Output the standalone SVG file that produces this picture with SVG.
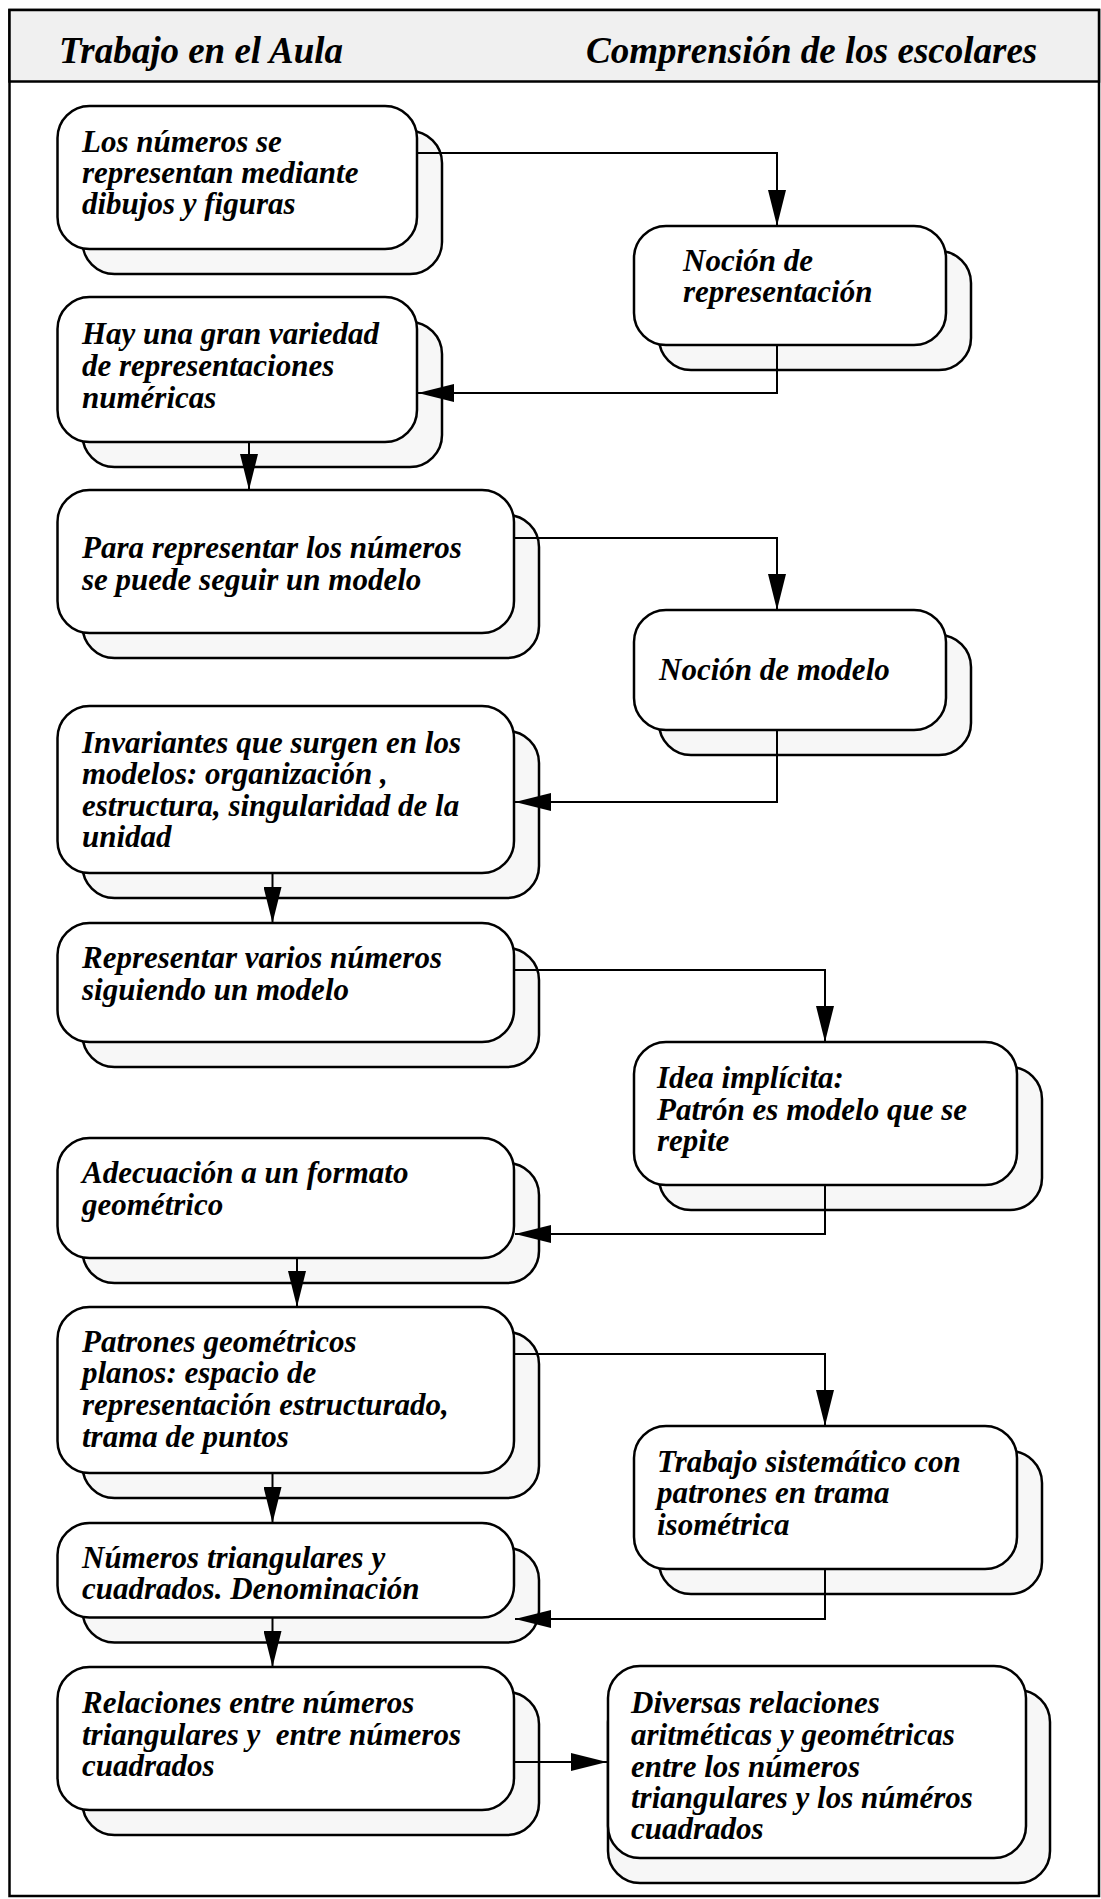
<svg xmlns="http://www.w3.org/2000/svg" width="1101" height="1899" viewBox="0 0 1101 1899">
<style>
.frame{fill:#ffffff;stroke:#000;stroke-width:2.5}
.head{fill:#f0f0f0;stroke:#000;stroke-width:2.5}
.shadow{fill:#f7f7f7;stroke:#000;stroke-width:2.5}
.box{fill:#ffffff;stroke:#000;stroke-width:2.5}
.conn{fill:none;stroke:#000;stroke-width:2}
.ht{font-family:"Liberation Serif","Times New Roman",serif;font-style:italic;font-weight:bold;font-size:37px;fill:#000}
.t{font-family:"Liberation Serif","Times New Roman",serif;font-style:italic;font-weight:bold;font-size:31px;fill:#000;white-space:pre}
</style>
<defs>
<marker id="arr" markerUnits="userSpaceOnUse" markerWidth="36" markerHeight="18" refX="36" refY="9" orient="auto" viewBox="0 0 36 18">
<path d="M0,0 L36,9 L0,18 z" fill="#000"/>
</marker>
</defs>
<rect class="frame" x="9.5" y="10" width="1089.5" height="1886"/>
<g id="header">
<rect class="head" x="9.5" y="10" width="1089.5" height="71.5"/>
<text class="ht" x="59" y="63">Trabajo en el Aula</text>
<text class="ht" x="586" y="63">Comprensión de los escolares</text>
</g>
<g id="n1">
<rect class="shadow" x="82.5" y="131" width="359.5" height="143" rx="32"/>
<rect class="box" x="57.5" y="106" width="359.5" height="143" rx="32"/>
<text class="t" x="82" y="152">Los números se</text>
<text class="t" x="82" y="183">representan mediante</text>
<text class="t" x="82" y="214">dibujos y figuras</text>
</g>
<g id="n2">
<rect class="shadow" x="659" y="251" width="312" height="119" rx="32"/>
<rect class="box" x="634" y="226" width="312" height="119" rx="32"/>
<text class="t" x="683" y="271">Noción de</text>
<text class="t" x="683" y="302">representación</text>
</g>
<g id="n3">
<rect class="shadow" x="82.5" y="322" width="359.5" height="145" rx="32"/>
<rect class="box" x="57.5" y="297" width="359.5" height="145" rx="32"/>
<text class="t" x="82" y="344">Hay una gran variedad</text>
<text class="t" x="82" y="376">de representaciones</text>
<text class="t" x="82" y="408">numéricas</text>
</g>
<g id="n4">
<rect class="shadow" x="82.5" y="515" width="456.5" height="143" rx="32"/>
<rect class="box" x="57.5" y="490" width="456.5" height="143" rx="32"/>
<text class="t" x="82" y="558">Para representar los números</text>
<text class="t" x="82" y="590">se puede seguir un modelo</text>
</g>
<g id="n5">
<rect class="shadow" x="659" y="635" width="312" height="120" rx="32"/>
<rect class="box" x="634" y="610" width="312" height="120" rx="32"/>
<text class="t" x="659" y="680">Noción de modelo</text>
</g>
<g id="n6">
<rect class="shadow" x="82.5" y="731" width="456.5" height="167" rx="32"/>
<rect class="box" x="57.5" y="706" width="456.5" height="167" rx="32"/>
<text class="t" x="82" y="753">Invariantes que surgen en los</text>
<text class="t" x="82" y="784">modelos: organización ,</text>
<text class="t" x="82" y="816">estructura, singularidad de la</text>
<text class="t" x="82" y="847">unidad</text>
</g>
<g id="n7">
<rect class="shadow" x="82.5" y="948" width="456.5" height="119" rx="32"/>
<rect class="box" x="57.5" y="923" width="456.5" height="119" rx="32"/>
<text class="t" x="82" y="968">Representar varios números</text>
<text class="t" x="82" y="1000">siguiendo un modelo</text>
</g>
<g id="n8">
<rect class="shadow" x="659" y="1067" width="383" height="143" rx="32"/>
<rect class="box" x="634" y="1042" width="383" height="143" rx="32"/>
<text class="t" x="657" y="1088">Idea implícita:</text>
<text class="t" x="657" y="1120">Patrón es modelo que se</text>
<text class="t" x="657" y="1151">repite</text>
</g>
<g id="n9">
<rect class="shadow" x="82.5" y="1163" width="456.5" height="120" rx="32"/>
<rect class="box" x="57.5" y="1138" width="456.5" height="120" rx="32"/>
<text class="t" x="82" y="1183">Adecuación a un formato</text>
<text class="t" x="82" y="1215">geométrico</text>
</g>
<g id="n10">
<rect class="shadow" x="82.5" y="1332" width="456.5" height="166" rx="32"/>
<rect class="box" x="57.5" y="1307" width="456.5" height="166" rx="32"/>
<text class="t" x="82" y="1352">Patrones geométricos</text>
<text class="t" x="82" y="1383">planos: espacio de</text>
<text class="t" x="82" y="1415">representación estructurado,</text>
<text class="t" x="82" y="1447">trama de puntos</text>
</g>
<g id="n11">
<rect class="shadow" x="659" y="1451" width="383" height="143" rx="32"/>
<rect class="box" x="634" y="1426" width="383" height="143" rx="32"/>
<text class="t" x="657" y="1472">Trabajo sistemático con</text>
<text class="t" x="657" y="1503">patrones en trama</text>
<text class="t" x="657" y="1535">isométrica</text>
</g>
<g id="n12">
<rect class="shadow" x="82.5" y="1548" width="456.5" height="94.5" rx="32"/>
<rect class="box" x="57.5" y="1523" width="456.5" height="94.5" rx="32"/>
<text class="t" x="82" y="1568">Números triangulares y</text>
<text class="t" x="82" y="1599">cuadrados. Denominación</text>
</g>
<g id="n13">
<rect class="shadow" x="82.5" y="1692" width="456.5" height="143" rx="32"/>
<rect class="box" x="57.5" y="1667" width="456.5" height="143" rx="32"/>
<text class="t" x="82" y="1713">Relaciones entre números</text>
<text class="t" x="82" y="1745">triangulares y  entre números</text>
<text class="t" x="82" y="1776">cuadrados</text>
</g>
<g id="n14">
<rect class="shadow" x="608" y="1690" width="442" height="193" rx="32"/>
<rect class="box" x="608" y="1666" width="418" height="192" rx="32"/>
<text class="t" x="631" y="1713">Diversas relaciones</text>
<text class="t" x="631" y="1745">aritméticas y geométricas</text>
<text class="t" x="631" y="1777">entre los números</text>
<text class="t" x="631" y="1808">triangulares y los núméros</text>
<text class="t" x="631" y="1839">cuadrados</text>
</g>
<g id="connectors">
<path class="conn" marker-end="url(#arr)" d="M417,153 H777 V226"/>
<path class="conn" marker-end="url(#arr)" d="M777,345 V393 H418"/>
<path class="conn" marker-end="url(#arr)" d="M249,442 V490"/>
<path class="conn" marker-end="url(#arr)" d="M514,538 H777 V610"/>
<path class="conn" marker-end="url(#arr)" d="M777,730 V802 H515"/>
<path class="conn" marker-end="url(#arr)" d="M272.5,873 V923"/>
<path class="conn" marker-end="url(#arr)" d="M514,970 H825 V1042"/>
<path class="conn" marker-end="url(#arr)" d="M825,1185 V1234 H515"/>
<path class="conn" marker-end="url(#arr)" d="M297,1258 V1307"/>
<path class="conn" marker-end="url(#arr)" d="M514,1354 H825 V1426"/>
<path class="conn" marker-end="url(#arr)" d="M272.5,1473 V1523"/>
<path class="conn" marker-end="url(#arr)" d="M825,1569 V1619 H515"/>
<path class="conn" marker-end="url(#arr)" d="M272.5,1617.5 V1667"/>
<path class="conn" marker-end="url(#arr)" d="M514,1762 H607"/>
</g>
</svg>
